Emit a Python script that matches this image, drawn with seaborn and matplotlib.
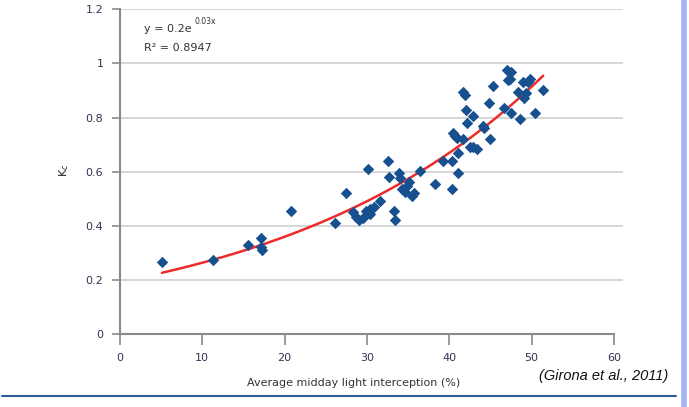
import numpy as np
import pandas as pd
import matplotlib
matplotlib.use("Agg")
import matplotlib.pyplot as plt
import seaborn as sns

# ---- data ----
light_interception = [
    5.1, 11.3, 15.55, 17.1, 17.1, 17.2, 20.8, 26.1, 27.5, 28.3,
    28.7, 29.0, 29.5, 29.9, 30.1, 30.4, 30.8, 30.4, 31.6, 32.6,
    32.7, 33.3, 33.4, 33.9, 34.0, 34.3, 34.6, 34.9, 35.1, 35.5,
    35.7, 36.5, 38.3, 39.2, 40.3, 40.3, 40.5, 40.7, 40.9, 41.0,
    41.0, 41.7, 41.7, 41.9, 42.0, 42.2, 42.5, 42.9, 42.9, 43.4,
    44.1, 44.2, 44.8, 45.0, 45.3, 46.7, 47.0, 47.5, 47.4, 47.1,
    47.5, 48.4, 48.6, 49.0, 49.5, 49.8, 49.1, 49.3, 50.4, 51.4,
]
kc = [
    0.267, 0.274, 0.33, 0.356, 0.32, 0.31, 0.456, 0.41, 0.52, 0.45,
    0.433, 0.42, 0.43, 0.455, 0.61, 0.463, 0.47, 0.444, 0.49, 0.64,
    0.58, 0.455, 0.42, 0.596, 0.578, 0.537, 0.526, 0.548, 0.56, 0.51,
    0.522, 0.604, 0.556, 0.64, 0.537, 0.64, 0.744, 0.733, 0.726, 0.67,
    0.596, 0.722, 0.893, 0.885, 0.826, 0.78, 0.69, 0.69, 0.807, 0.685,
    0.77, 0.76, 0.855, 0.722, 0.915, 0.837, 0.974, 0.967, 0.944, 0.937,
    0.815, 0.893, 0.793, 0.93, 0.933, 0.944, 0.874, 0.889, 0.815, 0.9,
]
fit_a, fit_b = 0.193, 0.0311
x_ticks = [0, 10, 20, 30, 40, 50, 60]
y_ticks = [0, 0.2, 0.4, 0.6, 0.8, 1.0, 1.2]
y_tick_labels = ["0", "0.2", "0.4", "0.6", "0.8", "1", "1.2"]

df = pd.DataFrame({"x": light_interception, "y": kc})
xs = np.linspace(min(light_interception), max(light_interception), 200)
fit_df = pd.DataFrame({"x": xs, "y": fit_a * np.exp(fit_b * xs)})

sns.set_theme(style="white")
plt.rcParams["font.family"] = ["Liberation Sans Narrow", "DejaVu Sans"]

fig = plt.figure(figsize=(6.89, 4.07), dpi=100)
ax = fig.add_axes([120 / 689, 73 / 407, 503 / 689, 324.7 / 407])

ax.set_xlim(0, 61.1)
ax.set_ylim(0, 1.2)

sns.lineplot(data=fit_df, x="x", y="y", color="#ee2a2a", lw=1.8, ax=ax, zorder=2)
sns.scatterplot(data=df, x="x", y="y", marker="D", s=34, color="#17508f",
                edgecolor="#17508f", linewidth=0, ax=ax, zorder=3)

ax.set_axisbelow(True)
ax.yaxis.grid(True, color="#cccccc", lw=1.1)
ax.xaxis.grid(False)

for s in ["top", "right"]:
    ax.spines[s].set_visible(False)
ax.spines["left"].set_color("#8a8a8a")
ax.spines["bottom"].set_color("#8a8a8a")
ax.spines["left"].set_linewidth(1.5)
ax.spines["bottom"].set_linewidth(1.5)
ax.spines["bottom"].set_bounds(0, 60)

ax.set_xticks(x_ticks)
ax.set_yticks(y_ticks)
ax.set_yticklabels(y_tick_labels)
ax.tick_params(axis="both", which="both", direction="out", length=6, width=1.2,
               color="#8a8a8a", labelsize=8, labelcolor="#333355", pad=6,
               left=True, bottom=True)
ax.tick_params(axis="x", length=8)
ax.set_xlabel("")
ax.set_ylabel("")
ax.yaxis.get_gridlines()[0].set_visible(False)

fig.text(354 / 689, 1 - 383 / 407, "Average midday light interception (%)",
         ha="center", va="center", fontsize=8, color="#333333")
fig.text(64 / 689, 1 - 170 / 407, "K$_c$", ha="center", va="center",
         fontsize=8, color="#222222", rotation=90)
fig.text(144 / 689, 1 - 29 / 407, "y = 0.2e", ha="left", va="center",
         fontsize=8, color="#333333")
fig.text(194 / 689, 1 - 22 / 407, "0.03x", ha="left", va="center",
         fontsize=5.5, color="#333333")
fig.text(144 / 689, 1 - 48 / 407, "R² = 0.8947", ha="left", va="center",
         fontsize=8, color="#333333")
fig.text(668 / 689, 1 - 376 / 407, "(Girona et al., 2011)", ha="right",
         va="center", fontsize=10.5, style="italic", color="#111111",
         family=["Liberation Sans", "DejaVu Sans"])

# decorative slide frame lines
fig.add_artist(plt.Line2D([2 / 689, 676 / 689], [1 - 396 / 407] * 2,
                          transform=fig.transFigure, color="#2f5d9a", lw=1.5))
fig.add_artist(plt.Line2D([684 / 689] * 2, [0, 1],
                          transform=fig.transFigure, color="#9fb4f4", lw=4))

fig.savefig("out.png", dpi=100)
